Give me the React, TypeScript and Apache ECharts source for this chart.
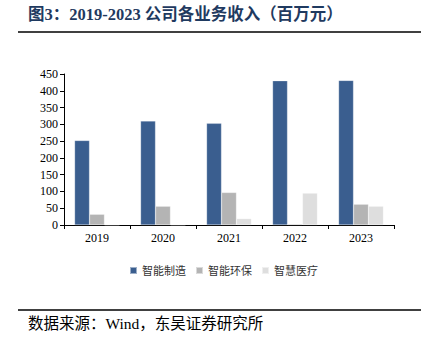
import React, { useEffect, useRef } from "react";
import * as echarts from "echarts";

const years = ["2019", "2020", "2021", "2022", "2023"];
const seriesNames = ["智能制造", "智能环保", "智慧医疗"];
const manufacturing = [252, 310, 303, 430, 431];
const environmental = [32, 56, 97, 3, 62];
const medical = [0, 0, 19, 95, 56];
const colors = ["#3A5E8F", "#B4B4B4", "#DEDEDE"];

const serif = "'Liberation Serif', 'Times New Roman', 'Noto Sans CJK SC', serif";

export default function App() {
  const ref = useRef<HTMLDivElement>(null);
  useEffect(() => {
    if (!ref.current) return;
    const chart = echarts.init(ref.current, undefined, { renderer: "svg" });
    const data = [manufacturing, environmental, medical];
    chart.setOption({
      animation: false,
      backgroundColor: "#ffffff",
      grid: { left: 64, right: 27, top: 74, bottom: 128 },
      legend: {
        left: 124,
        top: 260,
        itemWidth: 7,
        itemHeight: 7,
        itemGap: 9,
        icon: "rect",
        textStyle: { fontFamily: serif, fontSize: 11, color: "#333" },
        data: seriesNames,
      },
      xAxis: {
        type: "category",
        data: years,
        axisLine: { lineStyle: { color: "#000", width: 1 } },
        axisTick: { show: true, alignWithLabel: false, length: 4, lineStyle: { color: "#000" } },
        axisLabel: { fontFamily: serif, fontSize: 12, color: "#000", margin: 7 },
      },
      yAxis: {
        type: "value",
        min: 0,
        max: 450,
        interval: 50,
        splitLine: { show: false },
        axisLine: { show: true, lineStyle: { color: "#000", width: 1 } },
        axisTick: { show: true, length: 4, lineStyle: { color: "#000" } },
        axisLabel: { fontFamily: serif, fontSize: 12, color: "#000", margin: 6 },
      },
      series: seriesNames.map((name, i) => ({
        name,
        type: "bar",
        data: data[i],
        barGap: "0%",
        barCategoryGap: "32%",
        itemStyle: { color: colors[i], borderColor: "rgba(255,255,255,0.5)", borderWidth: 0.5 },
      })),
      graphic: [
        {
          type: "text",
          left: 28,
          top: 6,
          style: {
            text: "图3：2019-2023 公司各业务收入（百万元）",
            fontFamily: serif,
            fontWeight: "bold",
            fontSize: 16.5,
            fill: "#1F3A60",
          },
        },
        {
          type: "line",
          shape: { x1: 18, y1: 32, x2: 421, y2: 32 },
          style: { stroke: "#000", lineWidth: 1.5 },
        },
        {
          type: "line",
          shape: { x1: 18, y1: 310, x2: 421, y2: 310 },
          style: { stroke: "#000", lineWidth: 1.5 },
        },
        {
          type: "text",
          left: 28,
          top: 316,
          style: {
            text: "数据来源：Wind，东吴证券研究所",
            fontFamily: serif,
            fontSize: 15.5,
            fill: "#000",
          },
        },
      ],
    });
    return () => chart.dispose();
  }, []);
  return (
    <div
      ref={ref}
      style={{ position: "fixed", left: 0, top: 0, width: 421, height: 353, background: "#fff" }}
    />
  );
}
